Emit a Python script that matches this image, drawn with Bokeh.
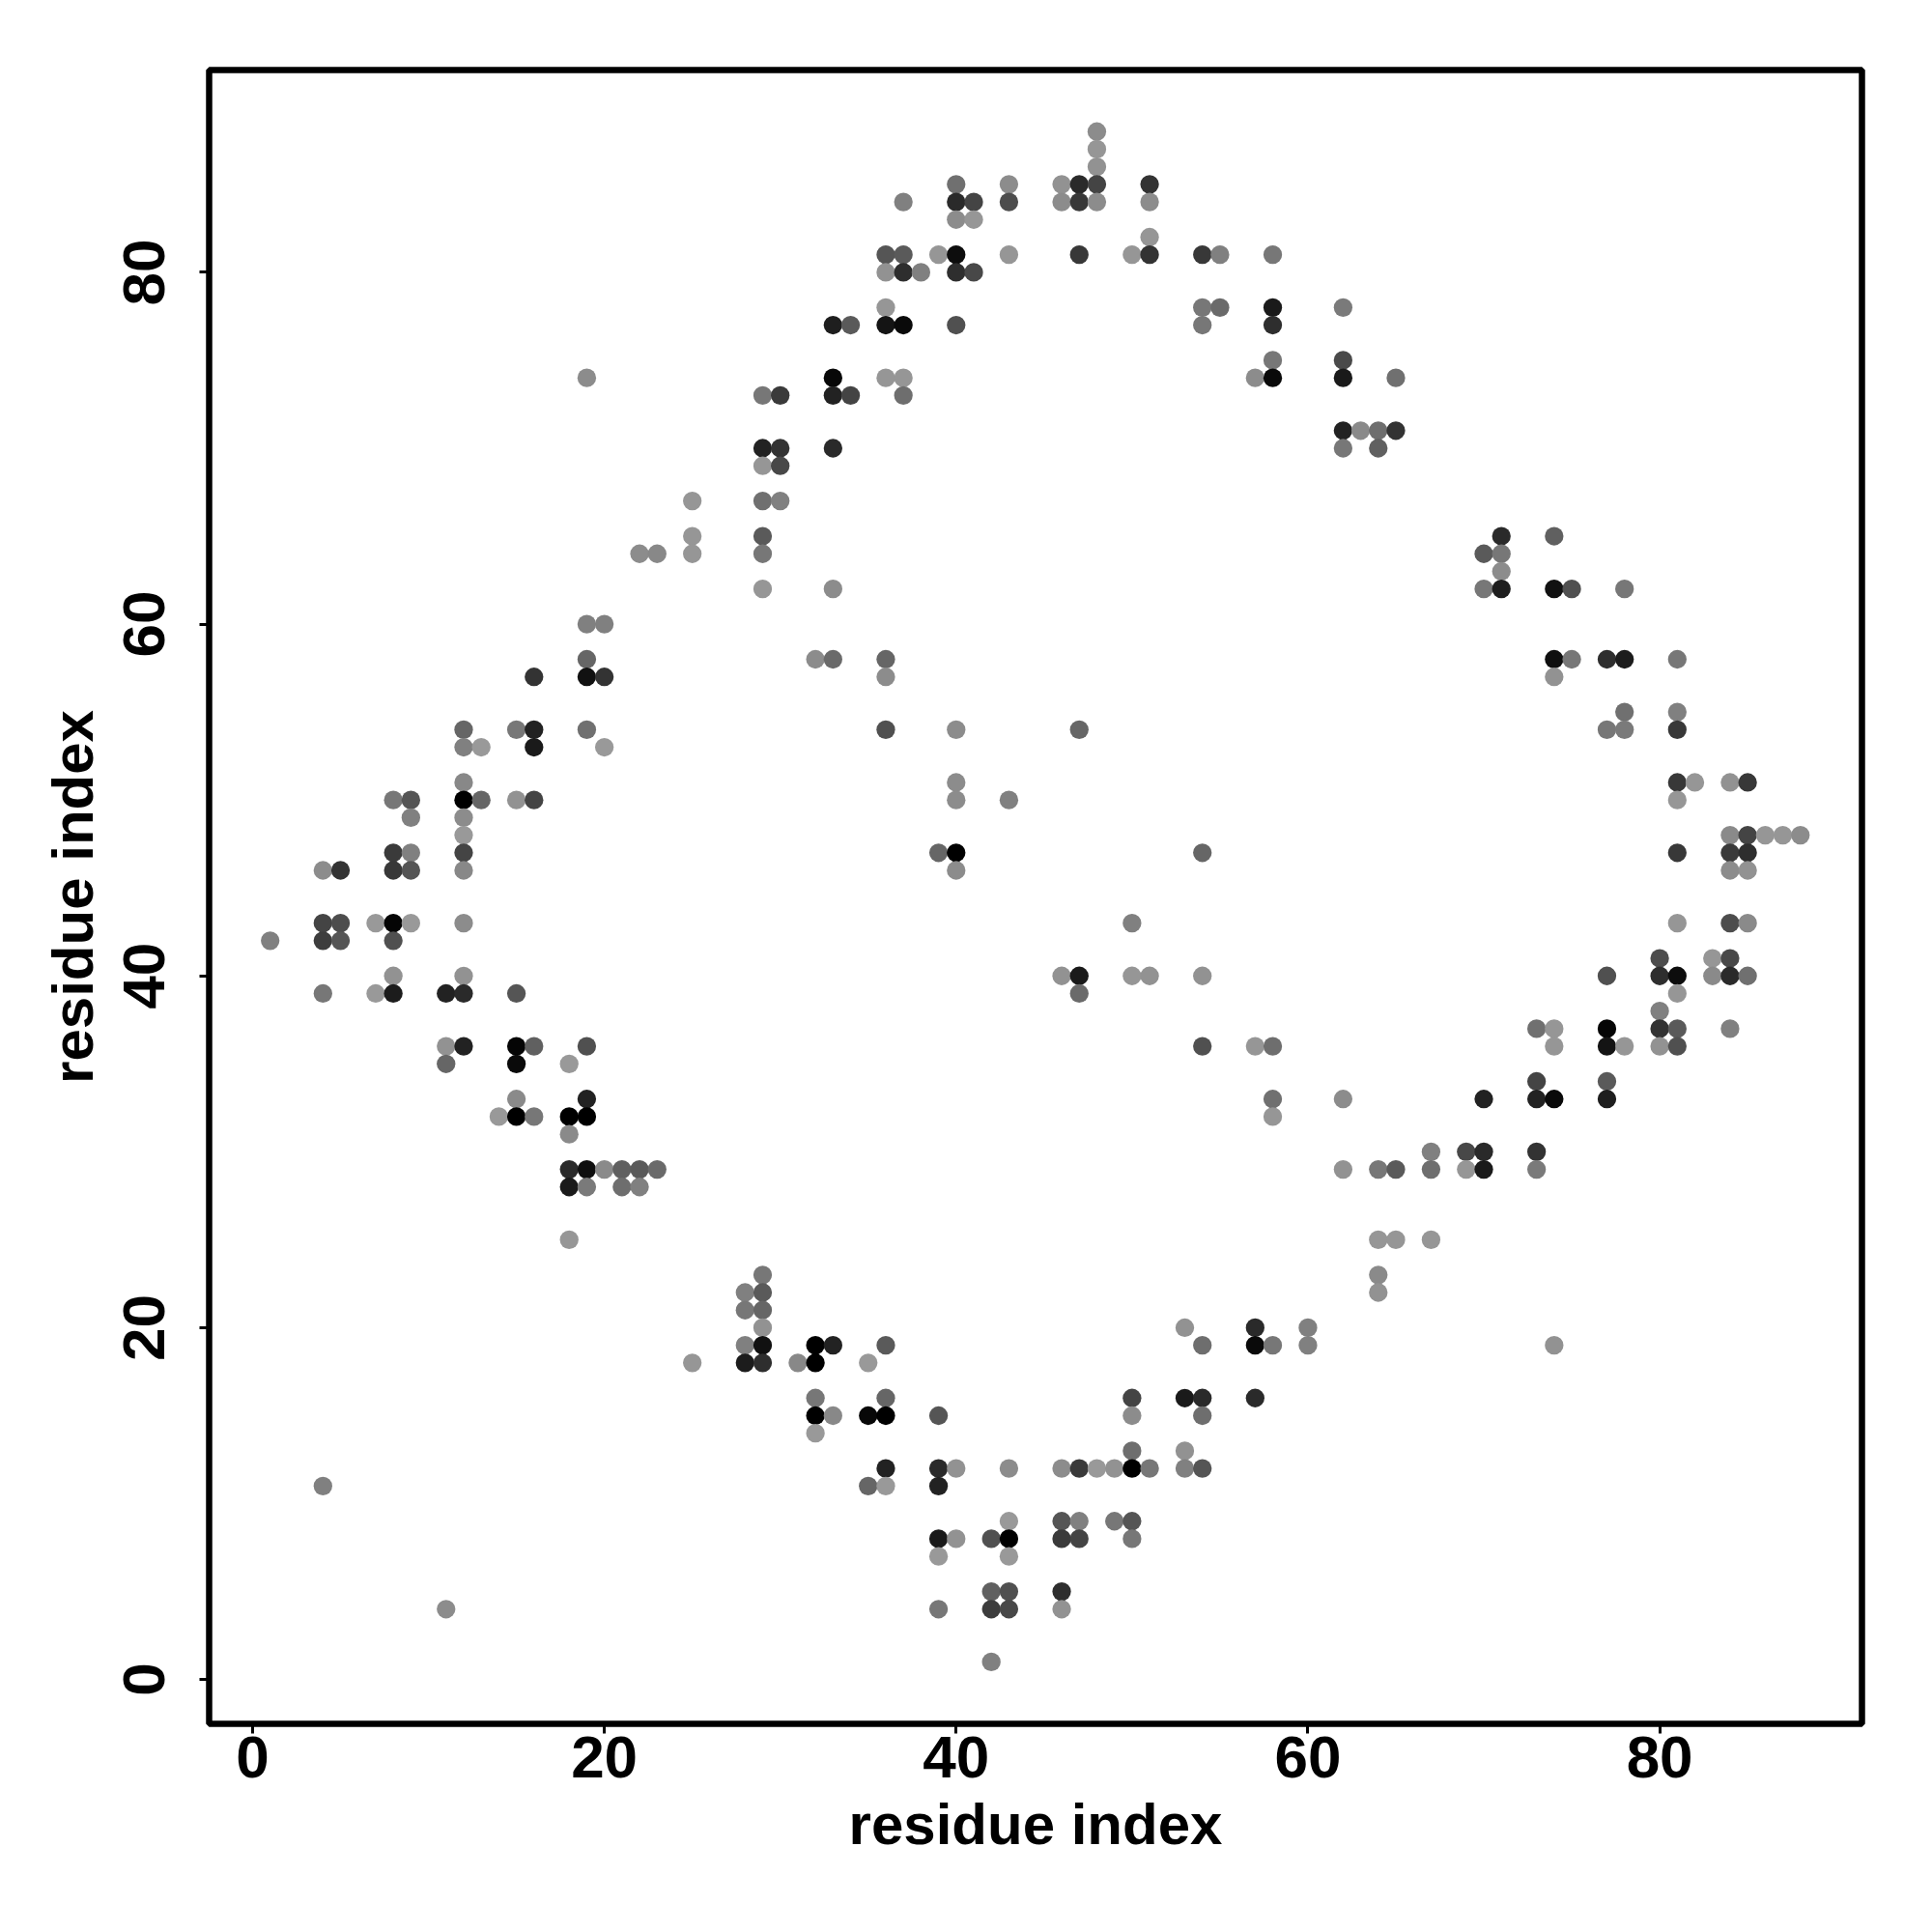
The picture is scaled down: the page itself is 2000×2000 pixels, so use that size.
from bokeh.plotting import figure
from bokeh.models import ColumnDataSource, FixedTicker, Range1d
from bokeh.embed import file_html
from bokeh.resources import INLINE

# one line per row of the plot (same residue j)
residue_i = [
    48,
    48,
    48,
    40, 43, 46, 47, 48, 51,
    37, 40, 41, 43, 46, 47, 48, 51,
    40, 41,
    51,
    36, 37, 39, 40, 43, 47, 50, 51, 54, 55, 58,
    36, 37, 38, 40, 41,
    36, 54, 55, 58, 62,
    33, 34, 36, 37, 40, 54, 58,
    58, 62,
    19, 33, 36, 37, 57, 58, 62, 65,
    29, 30, 33, 34, 37,
    62, 63, 64, 65,
    29, 30, 33, 62, 64,
    29, 30,
    25, 29, 30,
    25, 29, 71, 74,
    22, 23, 25, 29, 70, 71,
    71,
    29, 33, 70, 71, 74, 75, 78,
    19, 20,
    19, 32, 33, 36, 74, 75, 77, 78, 81,
    16, 19, 20, 36, 74,
    78, 81,
    12, 15, 16, 19, 36, 40, 47, 77, 78, 81,
    12, 13, 16, 20,
    12, 40, 81, 82, 84, 85,
    8, 9, 12, 13, 15, 16, 40, 43, 81,
    9, 12,
    12, 84, 85, 86, 87, 88,
    8, 9, 12, 39, 40, 54, 81, 84, 85,
    4, 5, 8, 9, 12, 40, 84, 85,
    4, 5, 7, 8, 9, 12, 50, 81, 84, 85,
    1, 4, 5, 8,
    80, 83, 84,
    8, 12, 46, 47, 50, 51, 54, 77, 80, 81, 83, 84, 85,
    4, 7, 8, 11, 12, 15, 47, 81,
    80,
    73, 74, 77, 80, 81, 84,
    11, 12, 15, 16, 19, 54, 57, 58, 74, 77, 78, 80, 81,
    11, 15, 18,
    73, 77,
    15, 19, 58, 62, 70, 73, 74, 77,
    14, 15, 16, 18, 19, 58,
    18,
    67, 69, 70, 73,
    18, 19, 20, 21, 22, 23, 62, 64, 65, 67, 69, 70, 73,
    18, 19, 21, 22,
    18, 64, 65, 67,
    29, 64,
    28, 29, 64,
    28, 29,
    29, 53, 57, 60,
    28, 29, 32, 33, 36, 54, 57, 58, 60, 74,
    25, 28, 29, 31, 32, 35,
    32, 36, 50, 53, 54, 57,
    32, 33, 35, 36, 39, 50, 54,
    32,
    50, 53,
    36, 39, 40, 43, 46, 47, 48, 49, 50, 51, 53, 54,
    4, 35, 36, 39,
    43, 46, 47, 49, 50,
    39, 40, 42, 43, 46, 47, 50,
    39, 43,
    42, 43, 46,
    11, 39, 42, 43, 46,
    42,
]

residue_j = [
    88,
    87,
    86,
    85, 85, 85, 85, 85, 85,
    84, 84, 84, 84, 84, 84, 84, 84,
    83, 83,
    82,
    81, 81, 81, 81, 81, 81, 81, 81, 81, 81, 81,
    80, 80, 80, 80, 80,
    78, 78, 78, 78, 78,
    77, 77, 77, 77, 77, 77, 77,
    75, 75,
    74, 74, 74, 74, 74, 74, 74, 74,
    73, 73, 73, 73, 73,
    71, 71, 71, 71,
    70, 70, 70, 70, 70,
    69, 69,
    67, 67, 67,
    65, 65, 65, 65,
    64, 64, 64, 64, 64, 64,
    63,
    62, 62, 62, 62, 62, 62, 62,
    60, 60,
    58, 58, 58, 58, 58, 58, 58, 58, 58,
    57, 57, 57, 57, 57,
    55, 55,
    54, 54, 54, 54, 54, 54, 54, 54, 54, 54,
    53, 53, 53, 53,
    51, 51, 51, 51, 51, 51,
    50, 50, 50, 50, 50, 50, 50, 50, 50,
    49, 49,
    48, 48, 48, 48, 48, 48,
    47, 47, 47, 47, 47, 47, 47, 47, 47,
    46, 46, 46, 46, 46, 46, 46, 46,
    43, 43, 43, 43, 43, 43, 43, 43, 43, 43,
    42, 42, 42, 42,
    41, 41, 41,
    40, 40, 40, 40, 40, 40, 40, 40, 40, 40, 40, 40, 40,
    39, 39, 39, 39, 39, 39, 39, 39,
    38,
    37, 37, 37, 37, 37, 37,
    36, 36, 36, 36, 36, 36, 36, 36, 36, 36, 36, 36, 36,
    35, 35, 35,
    34, 34,
    33, 33, 33, 33, 33, 33, 33, 33,
    32, 32, 32, 32, 32, 32,
    31,
    30, 30, 30, 30,
    29, 29, 29, 29, 29, 29, 29, 29, 29, 29, 29, 29, 29,
    28, 28, 28, 28,
    25, 25, 25, 25,
    23, 23,
    22, 22, 22,
    21, 21,
    20, 20, 20, 20,
    19, 19, 19, 19, 19, 19, 19, 19, 19, 19,
    18, 18, 18, 18, 18, 18,
    16, 16, 16, 16, 16, 16,
    15, 15, 15, 15, 15, 15, 15,
    14,
    13, 13,
    12, 12, 12, 12, 12, 12, 12, 12, 12, 12, 12, 12,
    11, 11, 11, 11,
    9, 9, 9, 9, 9,
    8, 8, 8, 8, 8, 8, 8,
    7, 7,
    5, 5, 5,
    4, 4, 4, 4, 4,
    1,
]

grey_level = [
    0x8c,
    0x96,
    0x92,
    0x70, 0x8c, 0x92, 0x2a, 0x44, 0x33,
    0x80, 0x2a, 0x44, 0x4d, 0x8c, 0x38, 0x8c, 0x8c,
    0x8c, 0x96,
    0x96,
    0x55, 0x5a, 0x96, 0x0d, 0x96, 0x38, 0x96, 0x33, 0x38, 0x80, 0x77,
    0x92, 0x2e, 0x80, 0x2e, 0x48,
    0x96, 0x77, 0x6a, 0x1a, 0x7a,
    0x1e, 0x5a, 0x14, 0x0a, 0x50, 0x77, 0x2e,
    0x77, 0x4a,
    0x8c, 0x08, 0x96, 0x96, 0x8c, 0x0a, 0x1a, 0x70,
    0x77, 0x3a, 0x22, 0x44, 0x6e,
    0x22, 0x8a, 0x6e, 0x33,
    0x22, 0x33, 0x2a, 0x77, 0x60,
    0x96, 0x48,
    0x96, 0x70, 0x80,
    0x96, 0x5a, 0x2a, 0x60,
    0x8c, 0x88, 0x96, 0x77, 0x5a, 0x77,
    0x8c,
    0x96, 0x8c, 0x77, 0x1e, 0x11, 0x50, 0x77,
    0x80, 0x80,
    0x66, 0x8c, 0x6a, 0x66, 0x0f, 0x77, 0x2e, 0x1c, 0x77,
    0x33, 0x11, 0x33, 0x8c, 0x92,
    0x70, 0x80,
    0x66, 0x77, 0x22, 0x70, 0x50, 0x8c, 0x66, 0x77, 0x7a, 0x38,
    0x80, 0x99, 0x1a, 0x99,
    0x88, 0x8c, 0x38, 0x96, 0x92, 0x38,
    0x77, 0x55, 0x00, 0x66, 0x92, 0x44, 0x8c, 0x80, 0x96,
    0x80, 0x8c,
    0x99, 0x8a, 0x44, 0x96, 0x96, 0x8c,
    0x3a, 0x80, 0x44, 0x66, 0x00, 0x66, 0x38, 0x3a, 0x2e,
    0x8c, 0x33, 0x38, 0x55, 0x88, 0x8c, 0x8c, 0x92,
    0x44, 0x4d, 0x99, 0x05, 0x99, 0x8c, 0x80, 0x96, 0x4d, 0x8a,
    0x80, 0x3d, 0x55, 0x50,
    0x4d, 0x96, 0x48,
    0x92, 0x92, 0x92, 0x1a, 0x96, 0x92, 0x92, 0x50, 0x2e, 0x0d, 0x8a, 0x2a, 0x70,
    0x77, 0x99, 0x1c, 0x22, 0x2a, 0x55, 0x6a, 0x96,
    0x80,
    0x70, 0x96, 0x05, 0x33, 0x5a, 0x80,
    0x92, 0x22, 0x05, 0x60, 0x50, 0x50, 0x96, 0x6e, 0x96, 0x14, 0x96, 0x92, 0x50,
    0x66, 0x0a, 0x99,
    0x44, 0x5a,
    0x8a, 0x22, 0x70, 0x8c, 0x22, 0x22, 0x0a, 0x1e,
    0x99, 0x00, 0x77, 0x00, 0x00, 0x96,
    0x8a,
    0x80, 0x48, 0x2a, 0x33,
    0x2a, 0x0f, 0x8a, 0x60, 0x5a, 0x6a, 0x92, 0x77, 0x5a, 0x6e, 0x96, 0x1a, 0x7a,
    0x1a, 0x7a, 0x6e, 0x80,
    0x96, 0x96, 0x96, 0x96,
    0x77, 0x8a,
    0x80, 0x5a, 0x92,
    0x77, 0x66,
    0x92, 0x92, 0x2a, 0x80,
    0x80, 0x11, 0x00, 0x22, 0x5a, 0x6e, 0x0a, 0x77, 0x80, 0x92,
    0x96, 0x1c, 0x2e, 0x88, 0x00, 0x99,
    0x77, 0x66, 0x44, 0x1a, 0x2a, 0x2a,
    0x00, 0x88, 0x08, 0x00, 0x55, 0x8c, 0x6e,
    0x99,
    0x6e, 0x92,
    0x22, 0x2a, 0x92, 0x8c, 0x8c, 0x3a, 0x99, 0x92, 0x00, 0x77, 0x80, 0x55,
    0x80, 0x66, 0x99, 0x22,
    0x99, 0x55, 0x80, 0x77, 0x55,
    0x1a, 0x92, 0x50, 0x00, 0x3a, 0x44, 0x77,
    0x99, 0x99,
    0x60, 0x50, 0x2e,
    0x8c, 0x77, 0x3c, 0x48, 0x92,
    0x80,
]

tick_values = [0, 20, 40, 60, 80]
axis_title = "residue index"

assert len(residue_i) == len(residue_j) == len(grey_level)

source = ColumnDataSource(dict(
    x=residue_i,
    y=residue_j,
    c=["#{0:02x}{0:02x}{0:02x}".format(g) for g in grey_level],
))

p = figure(
    width=1990, height=1990,
    x_range=Range1d(-2.47, 91.5), y_range=Range1d(-2.52, 91.5),
    output_backend="svg", toolbar_location=None,
    min_border_left=216, min_border_right=63, min_border_top=72, min_border_bottom=206,
    outline_line_color="black", outline_line_width=6.5,
    background_fill_color="white", border_fill_color="white",
)
p.grid.visible = False
p.scatter("x", "y", source=source, size=19.3, marker="circle",
          fill_color="c", line_color=None)

for ax in (p.xaxis[0], p.yaxis[0]):
    ax.ticker = FixedTicker(ticks=tick_values)
    ax.axis_line_color = None
    ax.major_tick_in = 0
    ax.major_tick_out = 10
    ax.major_tick_line_color = "black"
    ax.major_tick_line_width = 3
    ax.minor_tick_line_color = None
    ax.major_label_text_font = "Liberation Sans"
    ax.major_label_text_font_style = "bold"
    ax.major_label_text_font_size = "62px"
    ax.major_label_text_color = "black"
    ax.axis_label = axis_title
    ax.axis_label_text_font = "Liberation Sans"
    ax.axis_label_text_font_style = "bold"
    ax.axis_label_text_font_size = "60px"
    ax.axis_label_text_color = "black"

p.xaxis[0].major_label_standoff = 3
p.xaxis[0].axis_label_standoff = 12
p.yaxis[0].major_label_orientation = "vertical"
p.yaxis[0].major_label_standoff = 36
p.yaxis[0].axis_label_standoff = 17

open("out.html", "w").write(file_html(p, INLINE))
